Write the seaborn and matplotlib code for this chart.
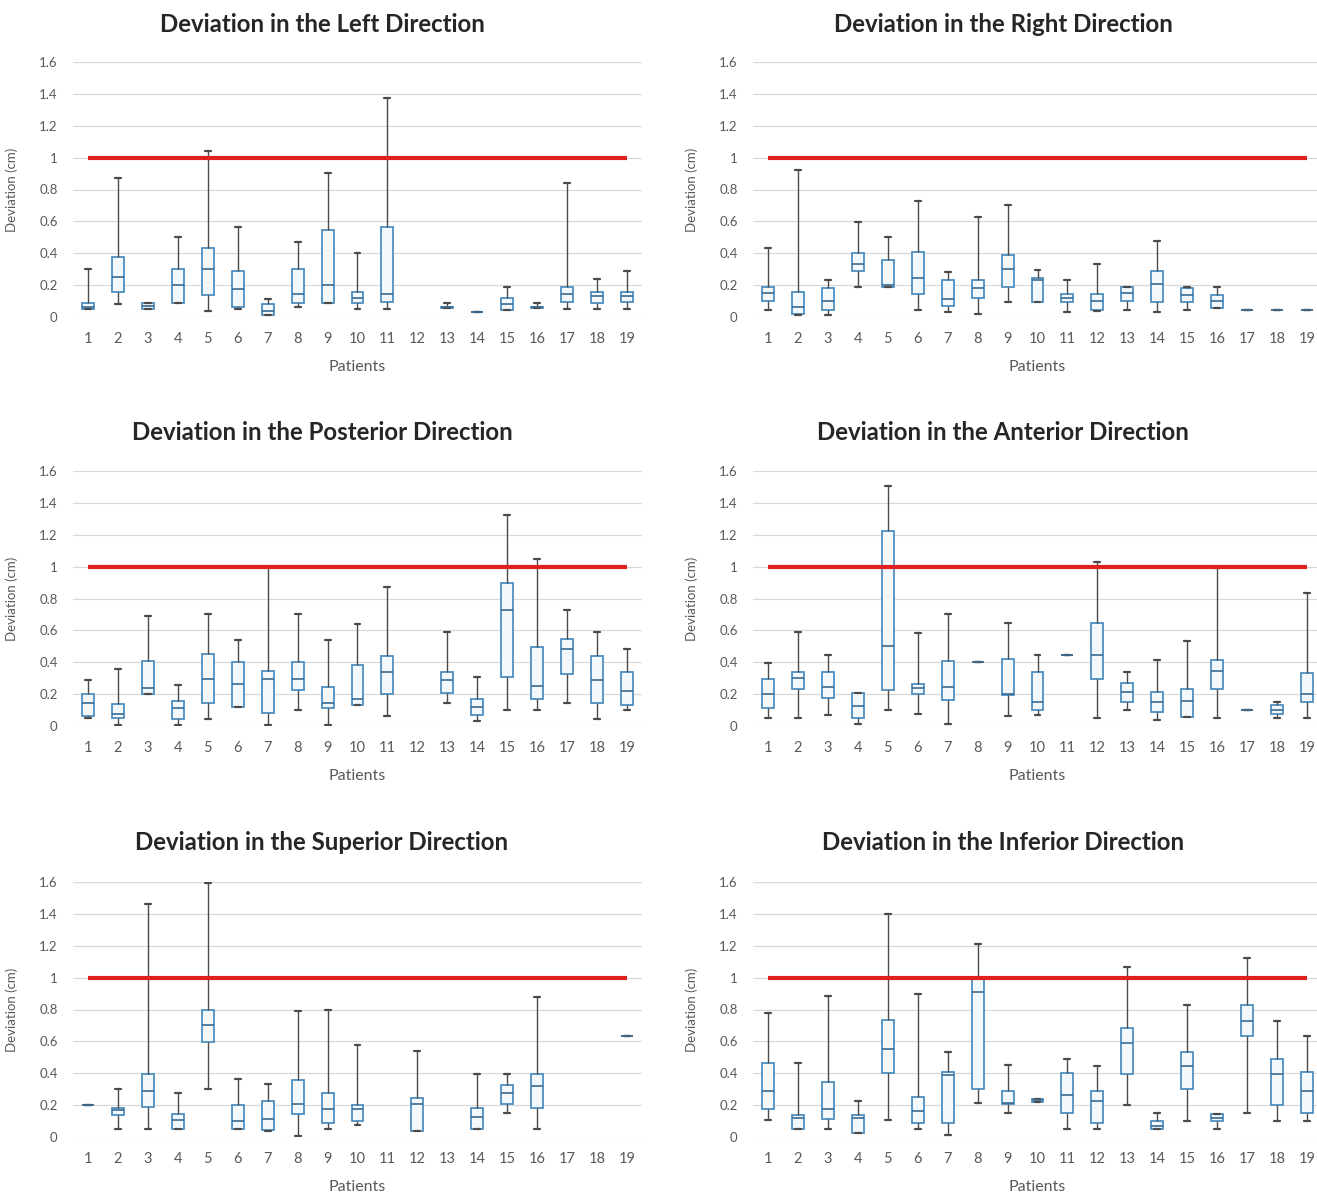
import numpy as np
import pandas as pd
import seaborn as sns
import matplotlib.pyplot as plt
from matplotlib.ticker import FuncFormatter

sns.set_theme(style="white")
plt.rcParams['font.family'] = ['Lato', 'DejaVu Sans']

patients = [str(i) for i in range(1, 20)]
yticks = [0, 0.2, 0.4, 0.6, 0.8, 1.0, 1.2, 1.4, 1.6]
threshold = 1.0

# five-number summaries per patient: (min, Q1, median, Q3, max); None = no data
left = [(0.05, 0.05, 0.06, 0.09, 0.30), (0.08, 0.155, 0.25, 0.375, 0.875), (0.05, 0.05, 0.07, 0.09, 0.09),
        (0.09, 0.09, 0.20, 0.30, 0.50), (0.04, 0.14, 0.30, 0.43, 1.04), (0.053, 0.063, 0.175, 0.29, 0.565),
        (0.01, 0.01, 0.04, 0.08, 0.115), (0.065, 0.09, 0.147, 0.30, 0.47), (0.09, 0.09, 0.20, 0.543, 0.905),
        (0.05, 0.09, 0.12, 0.16, 0.40), (0.05, 0.095, 0.147, 0.565, 1.375), None,
        (0.055, 0.055, 0.06, 0.065, 0.09), (0.03, 0.03, 0.03, 0.03, 0.03), (0.042, 0.042, 0.08, 0.12, 0.19),
        (0.055, 0.055, 0.06, 0.065, 0.09), (0.05, 0.095, 0.143, 0.19, 0.84), (0.05, 0.09, 0.13, 0.16, 0.24),
        (0.05, 0.095, 0.13, 0.155, 0.29)]
right = [(0.045, 0.10, 0.15, 0.19, 0.435), (0.01, 0.017, 0.06, 0.157, 0.92), (0.01, 0.045, 0.10, 0.185, 0.235),
         (0.19, 0.29, 0.33, 0.40, 0.595), (0.19, 0.19, 0.20, 0.355, 0.505), (0.045, 0.145, 0.245, 0.41, 0.73),
         (0.03, 0.067, 0.11, 0.235, 0.285), (0.017, 0.12, 0.18, 0.235, 0.63), (0.095, 0.19, 0.30, 0.39, 0.705),
         (0.095, 0.095, 0.23, 0.245, 0.295), (0.03, 0.095, 0.12, 0.145, 0.235), (0.037, 0.045, 0.10, 0.145, 0.335),
         (0.045, 0.10, 0.15, 0.19, 0.19), (0.03, 0.095, 0.21, 0.29, 0.475), (0.045, 0.095, 0.135, 0.185, 0.19),
         (0.055, 0.055, 0.10, 0.14, 0.19), (0.045, 0.045, 0.045, 0.045, 0.045), (0.045, 0.045, 0.045, 0.045, 0.045),
         (0.045, 0.045, 0.045, 0.045, 0.045)]
posterior = [(0.053, 0.063, 0.147, 0.20, 0.29), (0.006, 0.053, 0.074, 0.137, 0.36), (0.20, 0.20, 0.24, 0.41, 0.69),
             (0.006, 0.046, 0.116, 0.16, 0.26), (0.046, 0.147, 0.295, 0.45, 0.70), (0.12, 0.12, 0.263, 0.40, 0.537),
             (0.006, 0.084, 0.295, 0.347, 1.0), (0.10, 0.225, 0.295, 0.40, 0.70), (0.006, 0.116, 0.147, 0.246, 0.537),
             (0.133, 0.133, 0.168, 0.385, 0.638), (0.063, 0.20, 0.34, 0.442, 0.87), None,
             (0.147, 0.204, 0.288, 0.337, 0.59), (0.032, 0.07, 0.12, 0.168, 0.31), (0.10, 0.31, 0.726, 0.90, 1.326),
             (0.10, 0.168, 0.253, 0.495, 1.05), (0.147, 0.326, 0.484, 0.547, 0.726), (0.046, 0.147, 0.288, 0.442, 0.59),
             (0.10, 0.133, 0.221, 0.337, 0.484)]
anterior = [(0.05, 0.113, 0.203, 0.298, 0.396), (0.05, 0.235, 0.30, 0.34, 0.59), (0.067, 0.176, 0.245, 0.34, 0.444),
            (0.01, 0.05, 0.124, 0.207, 0.21), (0.103, 0.228, 0.50, 1.226, 1.503), (0.078, 0.203, 0.24, 0.266, 0.585),
            (0.01, 0.161, 0.245, 0.409, 0.70), (0.40, 0.40, 0.40, 0.40, 0.40), (0.063, 0.193, 0.20, 0.423, 0.648),
            (0.067, 0.103, 0.15, 0.34, 0.444), (0.444, 0.444, 0.444, 0.444, 0.444), (0.05, 0.298, 0.444, 0.648, 1.03),
            (0.103, 0.15, 0.214, 0.27, 0.34), (0.036, 0.088, 0.15, 0.214, 0.413), (0.057, 0.057, 0.157, 0.235, 0.535),
            (0.05, 0.235, 0.344, 0.413, 0.99), (0.10, 0.10, 0.10, 0.10, 0.10), (0.05, 0.078, 0.103, 0.13, 0.15),
            (0.05, 0.15, 0.203, 0.33, 0.832)]
superior = [(0.20, 0.20, 0.20, 0.20, 0.20), (0.052, 0.138, 0.167, 0.184, 0.30), (0.052, 0.188, 0.289, 0.397, 1.46),
            (0.048, 0.048, 0.105, 0.142, 0.278), (0.30, 0.598, 0.70, 0.80, 1.596), (0.048, 0.048, 0.10, 0.20, 0.362),
            (0.038, 0.042, 0.115, 0.226, 0.33), (0.006, 0.146, 0.205, 0.358, 0.79), (0.048, 0.09, 0.174, 0.274, 0.80),
            (0.073, 0.10, 0.174, 0.20, 0.58), None, (0.038, 0.038, 0.205, 0.243, 0.54), None,
            (0.052, 0.052, 0.126, 0.184, 0.393), (0.153, 0.209, 0.278, 0.326, 0.393), (0.052, 0.184, 0.32, 0.393, 0.88),
            None, None, (0.634, 0.634, 0.634, 0.634, 0.634)]
inferior = [(0.105, 0.174, 0.289, 0.467, 0.78), (0.052, 0.052, 0.117, 0.138, 0.462), (0.052, 0.111, 0.174, 0.347, 0.885),
            (0.027, 0.027, 0.117, 0.138, 0.226), (0.105, 0.404, 0.55, 0.734, 1.40), (0.052, 0.09, 0.163, 0.253, 0.90),
            (0.013, 0.09, 0.39, 0.408, 0.535), (0.215, 0.30, 0.912, 1.004, 1.213), (0.153, 0.205, 0.215, 0.289, 0.45),
            (0.22, 0.22, 0.23, 0.24, 0.24), (0.052, 0.153, 0.264, 0.404, 0.487), (0.052, 0.09, 0.226, 0.289, 0.446),
            (0.20, 0.393, 0.592, 0.686, 1.067), (0.052, 0.052, 0.07, 0.10, 0.153), (0.10, 0.303, 0.446, 0.536, 0.828),
            (0.052, 0.10, 0.12, 0.146, 0.146), (0.153, 0.634, 0.728, 0.828, 1.121), (0.10, 0.20, 0.393, 0.487, 0.728),
            (0.10, 0.153, 0.289, 0.41, 0.634)]

panels = [
    ("Deviation in the Left Direction", left),
    ("Deviation in the Right Direction", right),
    ("Deviation in the Posterior Direction", posterior),
    ("Deviation in the Anterior Direction", anterior),
    ("Deviation in the Superior Direction", superior),
    ("Deviation in the Inferior Direction", inferior),
]

W, H = 1317, 1193
fig = plt.figure(figsize=(W / 100, H / 100), dpi=100)
fig.patch.set_facecolor("white")

col_left = [73, 753]
row_top = [62, 471, 882]
ax_w, ax_h = 569, 255
title_x = [322, 1003]
title_y = [24, 433, 843]

edge = "#4f8fc0"
whisk = "#4a4a4a"
med = "#3b6a8f"
fill = "#f2f8fc"
txt = "#595959"

for i, (title, summ) in enumerate(panels):
    r, c = divmod(i, 2)
    x0 = col_left[c]
    y0 = row_top[r] + ax_h
    ax = fig.add_axes([x0 / W, 1 - y0 / H, ax_w / W, ax_h / H])
    rows = []
    for p, s in zip(patients, summ):
        if s is None:
            continue
        for v in s:
            rows.append({"Patients": p, "Deviation": v})
    df = pd.DataFrame(rows)
    sns.boxplot(data=df, x="Patients", y="Deviation", order=patients, ax=ax,
                whis=(0, 100), width=0.4, fill=True, color=fill, linecolor=whisk,
                linewidth=1.1, showfliers=False,
                boxprops=dict(facecolor=fill, edgecolor=edge, linewidth=1.3),
                whiskerprops=dict(color=whisk, linewidth=1.0),
                capprops=dict(color=whisk, linewidth=1.6),
                medianprops=dict(color=med, linewidth=1.2))
    ax.hlines(threshold, 0, len(patients) - 1, color="#e0201f", linewidth=3.0, zorder=10)
    ax.set_ylim(0, 1.6)
    ax.set_xlim(-0.5, len(patients) - 0.5)
    ax.set_yticks(yticks)
    ax.yaxis.set_major_formatter(FuncFormatter(lambda v, _: f"{v:g}"))
    ax.yaxis.grid(True, color="#d9d9d9", linewidth=0.9)
    ax.set_axisbelow(True)
    for sp in ax.spines.values():
        sp.set_visible(False)
    ax.tick_params(axis="both", length=0, labelcolor=txt)
    ax.tick_params(axis="y", pad=11, labelsize=9.5)
    ax.tick_params(axis="x", pad=11, labelsize=10.5)
    ax.set_xlabel("Patients", fontsize=11.5, color=txt)
    ax.set_ylabel("Deviation (cm)", fontsize=9.5, color=txt)
    ax.xaxis.set_label_coords(0.5, -0.17)
    ax.yaxis.set_label_coords(-0.097, 0.5)
    fig.text(title_x[c] / W, 1 - title_y[r] / H, title, ha="center", va="center",
             fontsize=17.3, fontweight="bold", color="#262626")

fig.savefig("out.png", dpi=100, facecolor="white")
